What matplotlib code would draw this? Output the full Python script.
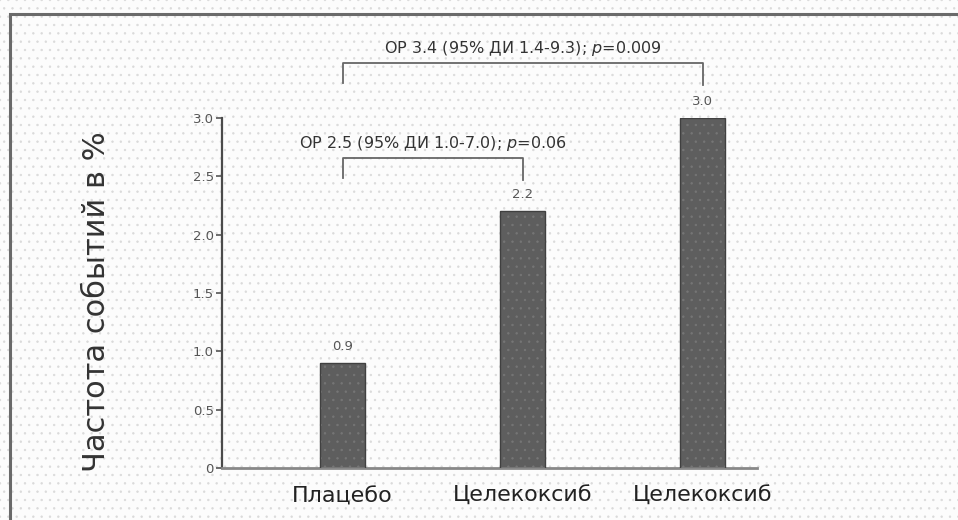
import matplotlib
matplotlib.use("Agg")
import matplotlib.pyplot as plt
from matplotlib.patches import Rectangle

groups = ["Плацебо", "Целекоксиб", "Целекоксиб"]
rates = [0.9, 2.2, 3.0]
rate_labels = ["0.9", "2.2", "3.0"]
yticks = [0, 0.5, 1.0, 1.5, 2.0, 2.5, 3.0]
ytick_labels = ["0", "0.5", "1.0", "1.5", "2.0", "2.5", "3.0"]
# сравнения: (от, до, высота скобки, текст)
comparisons = [
    (0, 1, 2.66, "ОР 2.5 (95% ДИ 1.0-7.0); $\\mathit{p}$=$\\mathit{0.06}$"),
    (0, 2, 3.47, "ОР 3.4 (95% ДИ 1.4-9.3); $\\mathit{p}$=$\\mathit{0.009}$"),
]

plt.rcParams["font.family"] = ["DejaVu Sans"]
plt.rcParams["hatch.linewidth"] = 0.5

fig = plt.figure(figsize=(9.58, 5.2), dpi=100)
fig.patch.set_facecolor("#fcfcfc")
# точечный фон
bg = Rectangle((0, 0), 1, 1, transform=fig.transFigure, facecolor="#fcfcfc",
               edgecolor="#dadada", lw=0, hatch="..", zorder=-10)
fig.add_artist(bg)
frame = Rectangle((10 / 958, -0.1), 1.2, (520 - 14) / 520 + 0.1, transform=fig.transFigure,
                  facecolor="none", edgecolor="#6a6a6a", lw=2.2, zorder=-5)
fig.add_artist(frame)

ax = fig.add_axes([222 / 958, 52 / 520, 535 / 958, 350 / 520])
ax.set_facecolor("none")
x = list(range(len(groups)))
ax.bar(x, rates, width=0.25, color="#5e5e5e", edgecolor="#767676", lw=0,
       hatch="..", zorder=2)
ax.bar(x, rates, width=0.25, color="none", edgecolor="#404040", lw=1.0, zorder=3)
for xi, v, lab in zip(x, rates, rate_labels):
    ax.text(xi, v + 0.09, lab, ha="center", va="bottom", fontsize=9.5, color="#555555")

for a, b, h, txt in comparisons:
    ax.plot([a, a, b, b], [h - 0.17, h, h, h - 0.19], color="#666666", lw=1.3,
            clip_on=False)
    ax.text((a + b) / 2, h + 0.04, txt, ha="center", va="bottom", fontsize=11.5,
            color="#333333", clip_on=False)

ax.set_xlim(-0.67, 2.3)
ax.set_ylim(0, 3.0)
ax.set_yticks(yticks)
ax.set_yticklabels(ytick_labels, fontsize=9.5, color="#555555")
ax.set_xticks(x)
ax.set_xticklabels(groups, fontsize=16, color="#222222")
ax.tick_params(axis="x", length=0, pad=13)
ax.tick_params(axis="y", length=4, width=1.2, color="#555555", pad=2)
ax.set_ylabel("Частота событий в %", fontsize=22, color="#333333")
ax.yaxis.set_label_coords(-0.208, 0.474)
for s in ["top", "right"]:
    ax.spines[s].set_visible(False)
ax.spines["left"].set_color("#4a4a4a")
ax.spines["left"].set_linewidth(1.6)
ax.spines["bottom"].set_color("#888888")
ax.spines["bottom"].set_linewidth(2)

fig.savefig("out.png", dpi=100, facecolor=fig.get_facecolor())
